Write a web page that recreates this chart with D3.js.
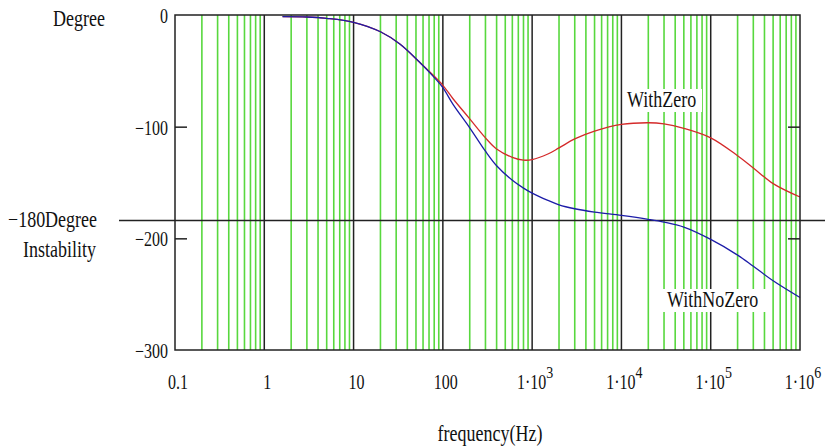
<!DOCTYPE html>
<html>
<head>
<meta charset="utf-8">
<script src="https://cdn.jsdelivr.net/npm/d3@7"></script>
<style>
  html, body { margin: 0; padding: 0; background: #fff; }
  svg { display: block; }
  text { font-family: "Liberation Serif", "Times New Roman", serif; fill: #111; }
</style>
</head>
<body>
<svg id="chart" width="825" height="447"></svg>
<script>
// ---- data ----
const freqHz = [1.6, 3, 5, 10, 20, 33, 56, 78, 100, 130, 200, 300, 400, 600, 800, 1000, 1500, 2000, 3000, 5000, 10000, 20000, 30000, 50000, 100000, 200000, 300000, 500000, 1000000];
const withNoZero = [-1.5, -1.8, -3, -6.5, -15, -26, -43, -55, -65, -80, -101, -122, -135, -148, -155, -159.5, -166, -170, -173.5, -176.5, -179.5, -183, -185.5, -190, -201, -215, -225, -238, -253];
const withZero   = [-1.5, -1.8, -3, -6.5, -15, -26, -43, -54, -63, -75, -93, -110, -120, -127.5, -130, -129.5, -124.5, -119, -111, -104, -98, -96.5, -97.5, -101.5, -110, -126, -137, -151, -163];
const decades = [0.1, 1, 10, 100, 1000, 10000, 100000, 1000000];
const decadeLabels = ["0.1", "1", "10", "100", "1·10|3", "1·10|4", "1·10|5", "1·10|6"];
const yTicks = [0, -100, -200, -300];
const yTickLabels = ["0", "−100", "−200", "−300"];
const instabilityLevel = -184;

// ---- layout ----
const svg = d3.select("#chart");
const x = d3.scaleLog().domain([0.1, 1e6]).range([175, 800]);
const y = d3.scaleLinear().domain([-300, 0]).range([350, 15]);
const STRETCH = 1.25;

function stretchedText(px, py, str, size, anchor) {
  const g = svg.append("g").attr("transform", `translate(${px},${py}) scale(1,${STRETCH})`);
  const t = g.append("text").attr("x", 0).attr("y", 0)
    .attr("font-size", size).attr("text-anchor", anchor || "start");
  return t.text(str);
}

svg.append("rect").attr("width", 825).attr("height", 447).attr("fill", "#fff");

// minor green grid lines
const minors = [];
decades.slice(0, -1).forEach(d => { for (let k = 2; k <= 9; k++) minors.push(d * k); });
svg.append("g").selectAll("line").data(minors).join("line")
  .attr("x1", d => x(d)).attr("x2", d => x(d))
  .attr("y1", y(0)).attr("y2", y(-300))
  .attr("stroke", "#58d83e").attr("stroke-width", 1.6);

// major black lines
svg.append("g").selectAll("line").data(decades.slice(1, -1)).join("line")
  .attr("x1", d => x(d)).attr("x2", d => x(d))
  .attr("y1", y(0)).attr("y2", y(-300))
  .attr("stroke", "#222").attr("stroke-width", 1.5);

// instability line
svg.append("line")
  .attr("x1", 119).attr("x2", 825)
  .attr("y1", y(instabilityLevel)).attr("y2", y(instabilityLevel))
  .attr("stroke", "#222").attr("stroke-width", 1.5);

// curves
const line = d3.line().x(d => x(d[0])).y(d => y(d[1])).curve(d3.curveCatmullRom.alpha(0.5));
svg.append("path").datum(freqHz.map((f, i) => [f, withZero[i]]))
  .attr("d", line).attr("fill", "none").attr("stroke", "#d42a2a").attr("stroke-width", 1.3);
svg.append("path").datum(freqHz.map((f, i) => [f, withNoZero[i]]))
  .attr("d", line).attr("fill", "none").attr("stroke", "#1c1ca8").attr("stroke-width", 1.3);

// frame
svg.append("rect")
  .attr("x", x(0.1)).attr("y", y(0))
  .attr("width", x(1e6) - x(0.1)).attr("height", y(-300) - y(0))
  .attr("fill", "none").attr("stroke", "#222").attr("stroke-width", 1.5);

// y ticks (inward, both sides)
const axL = d3.axisLeft(y).tickValues([-100, -200]).tickSize(-12).tickFormat("");
svg.append("g").attr("transform", `translate(${x(0.1)},0)`).call(axL)
  .call(g => g.select(".domain").remove())
  .selectAll("line").attr("stroke", "#222").attr("stroke-width", 1.5);
const axR = d3.axisRight(y).tickValues([-100, -200]).tickSize(-12).tickFormat("");
svg.append("g").attr("transform", `translate(${x(1e6)},0)`).call(axR)
  .call(g => g.select(".domain").remove())
  .selectAll("line").attr("stroke", "#222").attr("stroke-width", 1.5);

// y tick labels
yTicks.forEach((v, i) => stretchedText(168, y(v) + 8, yTickLabels[i], 16, "end"));

// x tick labels
decades.forEach((d, i) => {
  const parts = decadeLabels[i].split("|");
  const t = stretchedText(x(d) + 3, 389, "", 16, "middle");
  t.append("tspan").text(parts[0]);
  if (parts[1]) t.append("tspan").attr("dy", -9).attr("font-size", 14).text(parts[1]);
});

// axis titles / annotations
stretchedText(53, 26, "Degree", 18);
stretchedText(8, 227, "−180Degree", 18);
stretchedText(23, 257, "Instability", 18);
stretchedText(490, 441, "frequency(Hz)", 18, "middle");

// series labels with white boxes
svg.append("rect").attr("x", 623).attr("y", 89).attr("width", 79).attr("height", 23).attr("fill", "#fff");
stretchedText(627, 107, "WithZero", 18);
svg.append("rect").attr("x", 663).attr("y", 289).attr("width", 106).attr("height", 23).attr("fill", "#fff");
stretchedText(667, 307, "WithNoZero", 18);
</script>
</body>
</html>
